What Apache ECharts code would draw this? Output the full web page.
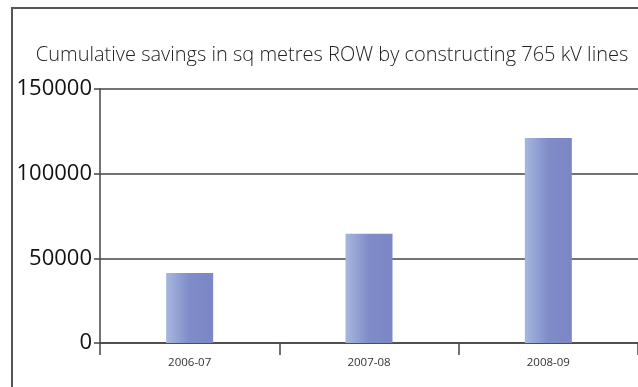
<!DOCTYPE html>
<html>
<head>
<meta charset="utf-8">
<script src="https://cdn.jsdelivr.net/npm/echarts@6/dist/echarts.min.js"></script>
<style>html,body{margin:0;padding:0;background:#fff;}#c{width:638px;height:387px;}</style>
</head>
<body>
<div id="c"></div>
<script>
const titleText = 'Cumulative savings in sq metres ROW by constructing 765 kV lines';
const categories = ['2006-07', '2007-08', '2008-09'];
const savings = [41300, 64500, 121000];
const yTicks = [0, 50000, 100000, 150000];

const chart = echarts.init(document.getElementById('c'));
chart.setOption({
  animation: false,
  backgroundColor: '#fff',
  title: {
    text: titleText,
    left: 327, top: 40, textAlign: 'center',
    textStyle: { fontFamily: 'Open Sans', fontWeight: 300, fontSize: 20, color: '#222' }
  },
  graphic: [{
    type: 'polyline',
    shape: { points: [[12, 400], [12, 8], [650, 8]] },
    style: { stroke: '#555', lineWidth: 2, fill: null }
  }],
  grid: { left: 100, right: -4, top: 89, bottom: 44 },
  xAxis: {
    type: 'category',
    data: categories,
    axisLine: { lineStyle: { color: '#444', width: 1.5 } },
    axisTick: { show: true, length: 12, lineStyle: { color: '#444', width: 1.5 } },
    axisLabel: { fontFamily: 'Open Sans', fontSize: 11.5, color: '#333', margin: 14 }
  },
  yAxis: {
    type: 'value',
    min: yTicks[0], max: yTicks[yTicks.length - 1], interval: 50000,
    axisLine: { show: true, lineStyle: { color: '#444', width: 1.5 } },
    axisTick: { show: true, length: 6, lineStyle: { color: '#444', width: 1.5 } },
    axisLabel: { fontFamily: 'Open Sans', fontSize: 22, color: '#111', margin: 8, formatter: v => String(v) },
    splitLine: { show: true, lineStyle: { color: '#444', width: 1.5 } }
  },
  series: [{
    type: 'bar',
    data: savings,
    barWidth: 47,
    itemStyle: {
      color: new echarts.graphic.LinearGradient(0, 0, 1, 0, [
        { offset: 0, color: '#a6b7de' },
        { offset: 0.5, color: '#7f8cc8' },
        { offset: 1, color: '#7b87c6' }
      ])
    }
  }]
});
</script>
</body>
</html>
